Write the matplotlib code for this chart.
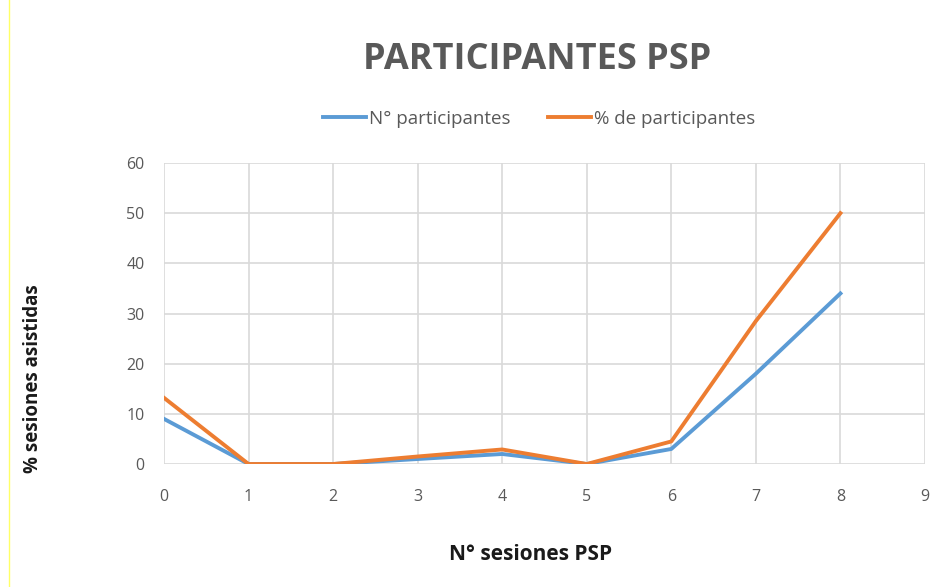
import matplotlib.pyplot as plt
from matplotlib.lines import Line2D

# sesiones asistidas
sesiones = [0, 1, 2, 3, 4, 5, 6, 7, 8]
n_participantes = [9, 0, 0, 1, 2, 0, 3, 18, 34]
pct_participantes = [13.2, 0, 0, 1.5, 2.9, 0, 4.5, 28.5, 50]

BLUE = '#5B9BD5'
ORANGE = '#ED7D31'
GRAY = '#595959'

plt.rcParams['font.family'] = ['Open Sans', 'DejaVu Sans']

fig = plt.figure(figsize=(9.3, 5.87), dpi=100)
ax = fig.add_axes([0.1763, 0.2095, 0.8183, 0.5128])

ax.plot(sesiones, n_participantes, color=BLUE, lw=2.8, label='N° participantes',
        solid_joinstyle='round', zorder=3)
ax.plot(sesiones, pct_participantes, color=ORANGE, lw=2.8, label='% de participantes',
        solid_joinstyle='round', zorder=4)

ax.set_xlim(0, 9)
ax.set_ylim(0, 60)
ax.set_xticks(range(0, 10))
ax.set_yticks(range(0, 61, 10))
ax.grid(True, color='#d9d9d9', lw=1.2)
ax.set_axisbelow(True)
for s in ax.spines.values():
    s.set_visible(False)
ax.tick_params(length=0, labelsize=11.5, labelcolor=GRAY)
ax.tick_params(axis='x', pad=18)
ax.tick_params(axis='y', pad=14)

fig.text(0.570, 1 - 555 / 587, 'N° sesiones PSP', ha='center', va='center',
         fontsize=15, fontweight='bold', color='#1a1a1a')
fig.text(0.036, 0.355, '% sesiones asistidas', rotation=90, ha='center', va='center',
         fontsize=13.5, fontweight='bold', color='#1a1a1a')

fig.text(0.578, 0.898, 'PARTICIPANTES PSP', ha='center', va='center', fontsize=26,
         fontweight='bold', color=GRAY)

handles = [Line2D([], [], color=BLUE, lw=2.8), Line2D([], [], color=ORANGE, lw=2.8)]
fig.legend(handles, ['N° participantes', '% de participantes'], loc='center',
           bbox_to_anchor=(0.5796, 1 - 119 / 587), ncol=2, frameon=False, fontsize=13.5,
           handlelength=2.3, handletextpad=0.15, columnspacing=2.0,
           labelcolor=GRAY)

# thin yellow edge on the left
fig.add_artist(Line2D([0.0097, 0.0097], [0, 1], color='#ffff66', lw=1))

fig.savefig('out.png', dpi=100)
